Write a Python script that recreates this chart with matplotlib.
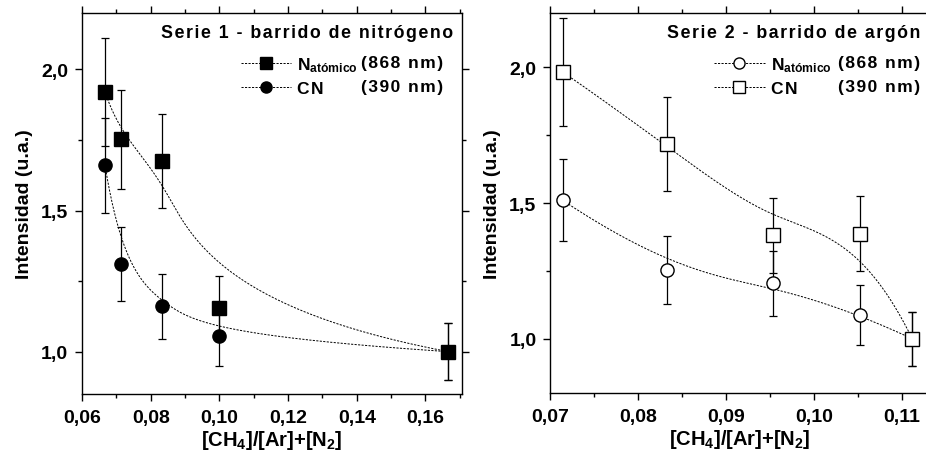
import numpy as np
import matplotlib
matplotlib.use("Agg")
import matplotlib.pyplot as plt
from matplotlib.lines import Line2D
from matplotlib.ticker import MultipleLocator, FuncFormatter

plt.rcParams["font.family"] = ["Liberation Sans", "DejaVu Sans"]
plt.rcParams["font.weight"] = "bold"
plt.rcParams["mathtext.fontset"] = "custom"
plt.rcParams["mathtext.rm"] = "Liberation Sans:bold"
plt.rcParams["mathtext.bf"] = "Liberation Sans:bold"
plt.rcParams["mathtext.it"] = "Liberation Sans:bold"

# Serie 1 - barrido de nitrógeno
s1_x = [0.0667, 0.0714, 0.0833, 0.1000, 0.1667]
s1_n = [1.92, 1.752, 1.675, 1.154, 1.0]
s1_n_err = [0.19, 0.175, 0.167, 0.113, 0.10]
s1_cn = [1.66, 1.311, 1.161, 1.054, 1.0]
s1_cn_err = [0.167, 0.13, 0.115, 0.105, 0.10]

# Serie 2 - barrido de argón
s2_x = [0.0714, 0.0833, 0.0953, 0.1053, 0.1112]
s2_n = [1.51, 1.254, 1.204, 1.088, 1.0]
s2_n_err = [0.151, 0.125, 0.121, 0.11, 0.10]
s2_cn = [1.983, 1.717, 1.381, 1.387, 1.0]
s2_cn_err = [0.2, 0.172, 0.138, 0.139, 0.10]

titles = ["Serie 1 - barrido de nitrógeno", "Serie 2 - barrido de argón"]
ylabel = "Intensidad (u.a.)"
xlabel = r"[CH$_4$]/[Ar]+[N$_2$]"

HAIR = "\u200a"


def spaced(s, sp=HAIR):
    # the original export has wide letter spacing
    return sp.join(s)


def bspline(xs, ys, n=300, k=3):
    """Clamped B-spline with the data points as control points (Origin style)."""
    P = np.column_stack([xs, ys])
    m = len(P)
    inner = np.linspace(0, 1, m - k + 1)[1:-1]
    t = np.concatenate([np.zeros(k + 1), inner, np.ones(k + 1)])
    u = np.linspace(0, 1, n)
    u[-1] -= 1e-9

    def basis(i, p, u):
        if p == 0:
            return np.where((t[i] <= u) & (u < t[i + 1]), 1.0, 0.0)
        a = 0.0
        if t[i + p] != t[i]:
            a = (u - t[i]) / (t[i + p] - t[i]) * basis(i, p - 1, u)
        b = 0.0
        if t[i + p + 1] != t[i + 1]:
            b = (t[i + p + 1] - u) / (t[i + p + 1] - t[i + 1]) * basis(i + 1, p - 1, u)
        return a + b

    B = np.array([basis(i, k, u) for i in range(m)])
    C = B.T @ P
    return C[:, 0], C[:, 1]


def fmt(dec):
    return FuncFormatter(lambda v, p: f"{v:.{dec}f}".replace(".", ","))


DASH = (0, (2.2, 1.4))
MS = 9.5


def draw_panel(ax, x, a, a_err, a_marker, a_fill, b, b_err, b_marker, b_fill):
    for ys, err, mk, fill, z in [(b, b_err, b_marker, b_fill, 3), (a, a_err, a_marker, a_fill, 4)]:
        cx, cy = bspline(x, ys)
        ax.plot(cx, cy, color="black", lw=0.7, ls=DASH, zorder=2)
        ax.errorbar(x, ys, yerr=err, fmt="none", ecolor="black", elinewidth=0.9,
                    capsize=3.2, capthick=0.9, zorder=z)
        ax.plot(x, ys, ls="none", marker=mk, ms=MS, mfc=fill, mec="black",
                mew=1.0, zorder=z + 0.5)


def style_axes(ax, xmaj, xmin):
    ax.xaxis.set_major_locator(MultipleLocator(xmaj))
    ax.xaxis.set_minor_locator(MultipleLocator(xmin))
    ax.yaxis.set_major_locator(MultipleLocator(0.5))
    ax.yaxis.set_minor_locator(MultipleLocator(0.25))
    ax.xaxis.set_major_formatter(fmt(2))
    ax.yaxis.set_major_formatter(fmt(1))
    ax.tick_params(which="both", direction="out", top=True, right=True,
                   labelsize=14, width=1.0)
    ax.tick_params(which="major", length=5)
    ax.tick_params(axis="x", which="major", pad=6)
    ax.tick_params(axis="y", which="major", pad=5)
    ax.tick_params(which="minor", length=3)
    for s in ax.spines.values():
        s.set_linewidth(1.0)
    ax.set_xlabel(xlabel, fontsize=14.5, fontweight="bold", labelpad=1)
    ax.set_ylabel(ylabel, fontsize=14, fontweight="bold", labelpad=6)


fig = plt.figure(figsize=(9.26, 4.52), dpi=100)
ax1 = fig.add_axes([82 / 926, 1 - 395 / 452, 379.5 / 926, 381 / 452])
ax2 = fig.add_axes([550.3 / 926, 1 - 394 / 452, 379.5 / 926, 380 / 452])

# left panel: filled markers
draw_panel(ax1, s1_x, s1_n, s1_n_err, "s", "black", s1_cn, s1_cn_err, "o", "black")
ax1.set_xlim(0.06, 0.1705)
ax1.set_ylim(0.85, 2.2)
style_axes(ax1, 0.02, 0.01)

# right panel: open markers
draw_panel(ax2, s2_x, s2_cn, s2_cn_err, "s", "white", s2_n, s2_n_err, "o", "white")
ax2.set_xlim(0.07, 0.1132)
ax2.set_ylim(0.8, 2.2)
style_axes(ax2, 0.01, 0.005)

h1 = [Line2D([], [], color="black", lw=0.7, ls=DASH, marker="s", ms=8, mfc="black", mec="black"),
      Line2D([], [], color="black", lw=0.7, ls=DASH, marker="o", ms=8, mfc="black", mec="black")]
h2 = [Line2D([], [], color="black", lw=0.7, ls=DASH, marker="o", ms=8, mfc="white", mec="black"),
      Line2D([], [], color="black", lw=0.7, ls=DASH, marker="s", ms=8, mfc="white", mec="black")]

lab_n = "N" + r"$_{\mathrm{atómico}}$"
lab_cn = spaced("CN")
nm_labels = [spaced("(868 nm)"), spaced("(390 nm)")]

# (title right edge, legend left edge, nm right edge) in axes fractions
layout = [(0.978, 0.424, 0.951), (0.974, 0.437, 0.974)]

for ax, h, title, (tx, lx, nx) in zip([ax1, ax2], [h1, h2], titles, layout):
    ax.text(tx, 0.95, spaced(title), transform=ax.transAxes,
            ha="right", va="center", fontsize=12.8, fontweight="bold")
    ax.legend(h, [lab_n, lab_cn], loc="upper left", bbox_to_anchor=(lx - 0.005, 0.89),
              frameon=False, handlelength=2.9, handletextpad=0.35,
              labelspacing=0.40, borderpad=0.0, borderaxespad=0.0,
              prop={"weight": "bold", "size": 12.5})
    for yy, s in zip([0.869, 0.806], nm_labels):
        ax.text(nx, yy, s, transform=ax.transAxes, ha="right", va="center",
                fontsize=12.5, fontweight="bold")

fig.savefig("out.png", dpi=100)
